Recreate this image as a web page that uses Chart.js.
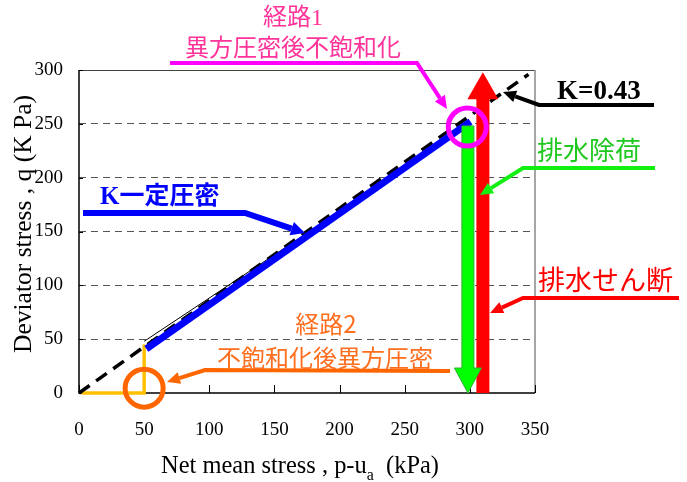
<!DOCTYPE html>
<html>
<head>
<meta charset="utf-8">
<script src="https://cdn.jsdelivr.net/npm/chart.js@4.4.1/dist/chart.umd.min.js"></script>
<style>
  html, body { margin: 0; padding: 0; background: #fff; }
  #wrap { width: 687px; height: 482px; }
</style>
</head>
<body>
<div id="wrap"><canvas id="c" width="687" height="482"></canvas></div>
<script>
// Stress paths in the (p - ua, q) plane, kPa
const kLine          = [[0, 0], [345, 296]];            // K = 0.43 line
const measuredPath   = [[50, 48], [300, 249]];          // thin solid line
const kConsolidation = [[51.7, 41], [300.5, 252]];      // K一定圧密
const path2Loading   = [[2, 0], [50, 0], [50, 45]];     // 経路2 before K-consolidation
const drainedUnload  = [[298.5, 248], [298.5, 0]];      // 排水除荷
const drainedShear   = [[310, 0], [310, 298]];          // 排水せん断
const path1Marker    = [[298, 247]];
const path2Marker    = [[50, 4.5]];

const xTicks = [0, 50, 100, 150, 200, 250, 300, 350];
const yTicks = [0, 50, 100, 150, 200, 250, 300];

const SERIF = "'Liberation Serif','Times New Roman',serif";
const CJK = "'Noto Sans CJK JP',sans-serif";
const SERIF_CJK = "'Liberation Serif','Noto Sans CJK JP',serif";

const pts = a => a.map(([x, y]) => ({ x, y }));

// Leader line ending in a filled arrow head
function leader(ctx, p, color, width, headLen, headW) {
  const n = p.length;
  const [tx, ty] = p[n - 1], [px, py] = p[n - 2];
  const ang = Math.atan2(ty - py, tx - px);
  const bx = tx - Math.cos(ang) * headLen, by = ty - Math.sin(ang) * headLen;
  ctx.save();
  ctx.strokeStyle = color; ctx.fillStyle = color;
  ctx.lineWidth = width; ctx.lineJoin = 'miter'; ctx.lineCap = 'butt';
  ctx.beginPath();
  ctx.moveTo(p[0][0], p[0][1]);
  for (let i = 1; i < n - 1; i++) ctx.lineTo(p[i][0], p[i][1]);
  ctx.lineTo(bx, by);
  ctx.stroke();
  ctx.beginPath();
  ctx.moveTo(tx, ty);
  ctx.lineTo(bx - Math.sin(ang) * headW, by + Math.cos(ang) * headW);
  ctx.lineTo(bx + Math.sin(ang) * headW, by - Math.cos(ang) * headW);
  ctx.closePath();
  ctx.fill();
  ctx.restore();
}

// Thick block arrow along a data path (start -> end)
function blockArrow(chart, path, fill, edge, shaftW, headW, headLen) {
  const { ctx, scales: { x, y } } = chart;
  const sx = x.getPixelForValue(path[0][0]), sy = y.getPixelForValue(path[0][1]);
  const ex = x.getPixelForValue(path[1][0]), ey = y.getPixelForValue(path[1][1]);
  const ang = Math.atan2(ey - sy, ex - sx);
  const c = Math.cos(ang), s = Math.sin(ang);
  const bx = ex - c * headLen, by = ey - s * headLen;
  const hw = shaftW / 2, hh = headW / 2;
  ctx.save();
  ctx.beginPath();
  ctx.moveTo(sx + s * hw, sy - c * hw);
  ctx.lineTo(bx + s * hw, by - c * hw);
  ctx.lineTo(bx + s * hh, by - c * hh);
  ctx.lineTo(ex, ey);
  ctx.lineTo(bx - s * hh, by + c * hh);
  ctx.lineTo(bx - s * hw, by + c * hw);
  ctx.lineTo(sx - s * hw, sy + c * hw);
  ctx.closePath();
  ctx.fillStyle = fill;
  ctx.fill();
  if (edge) { ctx.strokeStyle = edge; ctx.lineWidth = 1; ctx.stroke(); }
  ctx.restore();
}

function label(ctx, text, x, y, opt) {
  ctx.save();
  ctx.font = opt.font;
  ctx.fillStyle = opt.color;
  ctx.textAlign = opt.align || 'left';
  ctx.textBaseline = 'alphabetic';
  ctx.fillText(text, x, y);
  ctx.restore();
}

// Text squeezed horizontally to a given width (narrow serif look)
function fittedText(ctx, parts, cx, cy, width, rotate) {
  ctx.save();
  ctx.translate(cx, cy);
  if (rotate) ctx.rotate(-Math.PI / 2);
  let total = 0;
  for (const p of parts) { ctx.font = p.font; total += ctx.measureText(p.text).width; }
  const k = width / total;
  ctx.scale(k, 1);
  let xPos = -total / 2;
  ctx.fillStyle = '#000';
  ctx.textBaseline = 'alphabetic';
  ctx.textAlign = 'left';
  for (const p of parts) {
    ctx.font = p.font;
    ctx.fillText(p.text, xPos, p.dy || 0);
    xPos += ctx.measureText(p.text).width;
  }
  ctx.restore();
}

const framePlugin = {
  id: 'frame',
  beforeDatasetsDraw(chart) {
    const { ctx, chartArea: a, scales: { x, y } } = chart;
    ctx.save();
    // top and right edges
    ctx.strokeStyle = '#444'; ctx.lineWidth = 1;
    ctx.beginPath(); ctx.moveTo(a.left, a.top + 0.5); ctx.lineTo(a.right, a.top + 0.5); ctx.stroke();
    ctx.strokeStyle = '#888'; ctx.lineWidth = 1.5;
    ctx.beginPath(); ctx.moveTo(a.right, a.top); ctx.lineTo(a.right, a.bottom); ctx.stroke();
    // inner tick marks
    ctx.strokeStyle = '#000'; ctx.lineWidth = 1;
    for (const v of xTicks) {
      const px = Math.round(x.getPixelForValue(v)) + 0.5;
      ctx.beginPath(); ctx.moveTo(px, a.bottom); ctx.lineTo(px, a.bottom - 8); ctx.stroke();
    }
    for (const v of yTicks) {
      const py = Math.round(y.getPixelForValue(v)) + 0.5;
      ctx.beginPath(); ctx.moveTo(a.left, py); ctx.lineTo(a.left + 4, py); ctx.stroke();
    }
    // left and bottom axes
    ctx.strokeStyle = '#000'; ctx.lineWidth = 1.5;
    ctx.beginPath(); ctx.moveTo(a.left, a.top); ctx.lineTo(a.left, a.bottom); ctx.lineTo(a.right, a.bottom); ctx.stroke();
    ctx.restore();
  },
  afterDatasetDraw(chart, args) {
    // block arrows sit above the lines, below the circle markers
    if (args.index === 2) {
      blockArrow(chart, drainedShear, '#FF0000', null, 13, 31, 27);
      blockArrow(chart, drainedUnload, '#00FF00', '#30B030', 12, 27, 25);
    }
  },
  afterDraw(chart) {
    const { ctx } = chart;

    // axis titles
    fittedText(ctx, [
      { text: 'Net mean stress , p-u', font: `26px ${SERIF}` },
      { text: 'a', font: `17px ${SERIF}`, dy: 7 },
      { text: '  (kPa)', font: `26px ${SERIF}` }
    ], 300, 473, 278, false);
    fittedText(ctx, [
      { text: 'Deviator stress , q (K Pa)', font: `26px ${SERIF}` }
    ], 31, 224, 258, true);

    // callouts
    leader(ctx, [[170, 63], [417, 63], [447, 109]], '#FF00FF', 4, 13, 6);
    leader(ctx, [[654, 105], [539, 105], [503, 92]], '#000000', 4, 13, 6);
    leader(ctx, [[655, 168], [523, 168], [480, 195]], '#11F011', 4, 13, 6);
    leader(ctx, [[679, 298], [523, 298], [490, 313]], '#FF0000', 4, 13, 6);
    leader(ctx, [[83, 213], [245, 213], [305, 233]], '#0000FF', 6, 14, 7);
    leader(ctx, [[450, 371], [205, 370], [167, 382]], '#FF6600', 4, 13, 6);

    label(ctx, '経路1', 293, 25, { font: `24px ${SERIF_CJK}`, color: '#FF3399', align: 'center' });
    label(ctx, '異方圧密後不飽和化', 293, 56, { font: `24px ${CJK}`, color: '#FF3399', align: 'center' });
    label(ctx, 'K=0.43', 557, 99, { font: `bold 27px ${SERIF}`, color: '#000' });
    label(ctx, '排水除荷', 537, 160, { font: `26px ${CJK}`, color: '#1EC81E' });
    label(ctx, '排水せん断', 538, 290, { font: `27px ${CJK}`, color: '#FF0000' });
    label(ctx, 'K一定圧密', 100, 204, { font: `bold 25px ${SERIF_CJK}`, color: '#0000FF' });
    label(ctx, '経路2', 326, 333, { font: `24px ${CJK}`, color: '#FF6E1E', align: 'center' });
    label(ctx, '不飽和化後異方圧密', 325, 367, { font: `24px ${CJK}`, color: '#FF6E1E', align: 'center' });
  }
};

new Chart(document.getElementById('c'), {
  type: 'scatter',
  data: {
    datasets: [
      { data: pts(path1Marker), showLine: false, pointRadius: 19, pointHoverRadius: 19, clip: false,
        pointBorderWidth: 5, pointBorderColor: '#FF00FF', pointBackgroundColor: 'rgba(0,0,0,0)' },
      { data: pts(path2Marker), showLine: false, pointRadius: 19, pointHoverRadius: 19, clip: false,
        pointBorderWidth: 5, pointBorderColor: '#FF6600', pointBackgroundColor: 'rgba(0,0,0,0)' },
      { data: pts(kConsolidation), showLine: true, borderColor: '#0000FF', borderWidth: 7,
        borderCapStyle: 'butt', pointRadius: 0, clip: false },
      { data: pts(measuredPath), showLine: true, borderColor: '#000', borderWidth: 1,
        pointRadius: 0, clip: false },
      { data: pts(kLine), showLine: true, borderColor: '#000', borderWidth: 3.5,
        borderDash: [13, 8], borderCapStyle: 'butt', pointRadius: 0, clip: false },
      { data: pts(path2Loading), showLine: true, borderColor: '#FFC000', borderWidth: 3.5,
        borderJoinStyle: 'miter', pointRadius: 0, clip: false }
    ]
  },
  options: {
    responsive: false,
    animation: false,
    devicePixelRatio: 1,
    layout: { padding: { top: 70, right: 152, left: 0, bottom: 0 } },
    plugins: { legend: { display: false }, tooltip: { enabled: false } },
    scales: {
      x: {
        type: 'linear', min: 0, max: 350,
        afterBuildTicks: s => { s.ticks = xTicks.map(v => ({ value: v })); },
        afterFit: s => { s.height = 89; },
        grid: { display: false, drawTicks: false },
        border: { display: false },
        ticks: { padding: 26, color: '#000', font: { family: SERIF, size: 19 }, maxRotation: 0 }
      },
      y: {
        type: 'linear', min: 0, max: 300,
        afterBuildTicks: s => { s.ticks = yTicks.map(v => ({ value: v })); },
        afterFit: s => { s.width = 79; },
        grid: {
          drawTicks: false, lineWidth: 1,
          color: c => (c.tick && c.tick.value > 0 && c.tick.value < 300) ? '#555' : 'rgba(0,0,0,0)',
          borderDash: [7, 5]
        },
        border: { display: false, dash: [7, 5] },
        ticks: { padding: 16, color: '#000', font: { family: SERIF, size: 19 } }
      }
    }
  },
  plugins: [framePlugin]
});
</script>
</body>
</html>
